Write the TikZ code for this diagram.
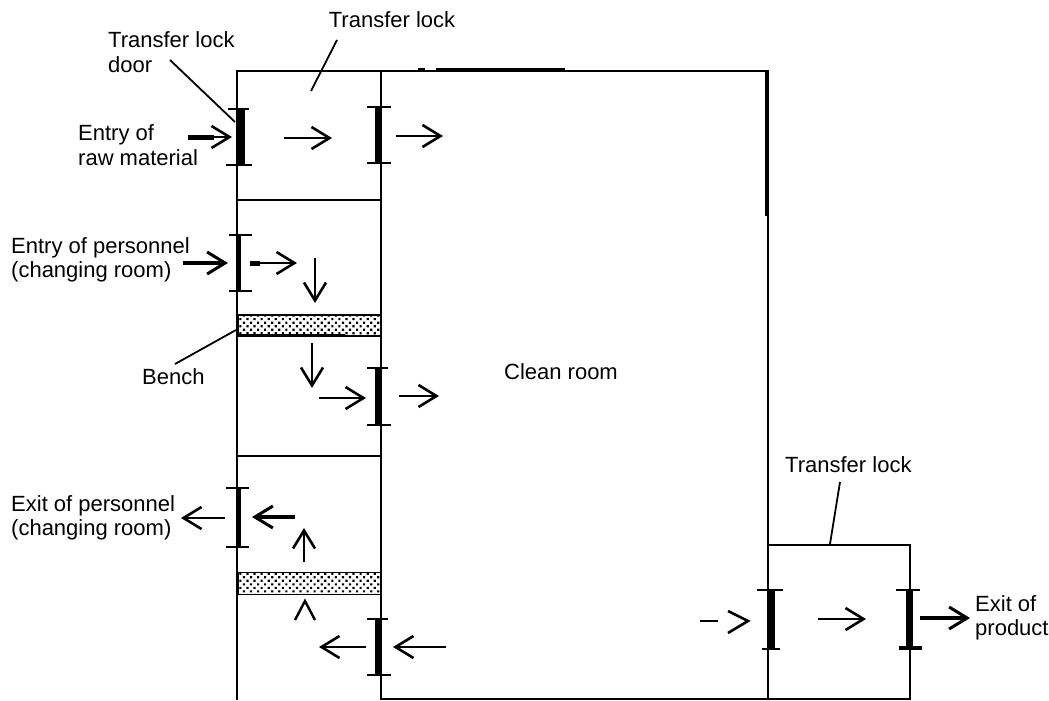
\documentclass[tikz,border=0pt]{standalone}
\usepackage{fontspec}
\setmainfont{Liberation Sans}
\usetikzlibrary{arrows.meta,patterns.meta}
\tikzset{
  x=1pt,y=-1pt,
  wall/.style={line width=2.4pt,line cap=rect},
  heavy/.style={line width=3.6pt},
  leader/.style={line width=1.8pt},
  doorthick/.style={line width=7pt},
  doorthin/.style={line width=4pt},
  doorcap/.style={line width=2.2pt},
  flow/.style={line width=2.2pt,-{Straight Barb[length=18pt,width=22pt,line width=2.6pt]}},
  flowbold/.style={line width=4.5pt,-{Straight Barb[length=18pt,width=22pt,line width=3pt]}},
  stub/.style={line width=5pt},
  bench/.style={pattern={Dots[radius=1.5pt,distance=5pt,angle=45]},pattern color=black,draw=black,line width=1.8pt},
  lbl/.style={font=\fontsize{22}{24.5}\selectfont,inner sep=0pt,align=left,text=black},
}
\begin{document}
\begin{tikzpicture}
\useasboundingbox (0,0) rectangle (1049,701);
\fill[white] (0,0) rectangle (1049,701);
% benches
\node[bench,minimum width=143pt,minimum height=21pt,inner sep=0pt,anchor=north west] (bencha) at (237.5,314) {};
\node[bench,minimum width=143pt,minimum height=22pt,inner sep=0pt,anchor=north west] (benchb) at (237.5,571.5) {};
\coordinate (bea) at (237,335); \coordinate (beb) at (345,335);
\draw[line width=3pt] (bea) -- (beb);
% walls
\draw[wall] (237,699) -- (237,71) -- (768,71) -- (768,699);
\draw[wall] (381,71) -- (381,699);
\draw[wall] (237,200) -- (381,200);
\draw[wall] (237,456) -- (381,456);
\draw[wall] (381,699) -- (910,699) -- (910,545) -- (768,545);
\draw[heavy] (418,70) -- (425,70) (436,70) -- (565,70);
\draw[heavy] (767,71) -- (767,216);
% doors
\foreach \nm/\xx/\ya/\yb/\style/\la/\ra/\lb/\rb in {
  da/241/109/165/doorthick/228/249/226/252,
  db/378.5/107/163/doorthick/367/391/367/391,
  dc/239/235/291/doorthin/229/252/229/252,
  dd/378.5/368/425/doorthick/367/388/367/391,
  de/239/488/547/doorthin/226/249/226/249,
  df/378.5/619/675/doorthick/367/388/367/391,
  dg/771.5/590/649/doorthick/757/783/762/780,
  dh/909/590/648/doorthick/896/920/899/922}{
  \coordinate (\nm t) at (\xx,\ya);
  \coordinate (\nm b) at (\xx,\yb);
  \draw[\style] (\nm t) -- (\nm b);
  \draw[doorcap] (\la,\ya) -- (\ra,\ya);
  \draw[doorcap] (\lb,\yb) -- (\rb,\yb);
}
\coordinate (dha) at (899,648); \coordinate (dhb) at (922,648);
\draw[line width=4.5pt] (dha) -- (dhb);
% flow arrows
\foreach \nm/\xa/\ya/\xb/\yb in {
  fa/188/137/232/137, fb/284/138/332/138, fc/396/136/443/136,
  fe/250/263/297/263, ff/315/258/315/303, fg/312/343/312/388,
  fh/319/398/366/398, fi/399/396/439/396, fj/225/518/181/518,
  fl/304/562/304/528, fm/366/647/319/647, fn/446/647/393/647,
  fo/818/619/866/619}{
  \coordinate (\nm s) at (\xa,\ya);
  \coordinate (\nm e) at (\xb,\yb);
  \draw[flow] (\nm s) -- (\nm e);
}
\foreach \nm/\xa/\ya/\xb/\yb in {
  fd/183/263/228/263, fk/295/517/252/517, fp/920/618/970/618}{
  \coordinate (\nm s) at (\xa,\ya);
  \coordinate (\nm e) at (\xb,\yb);
  \draw[flowbold] (\nm s) -- (\nm e);
}
% thick stubs at arrow tails
\coordinate (sa) at (188,137); \coordinate (sb) at (214,137);
\draw[stub] (sa) -- (sb);
\coordinate (sc) at (250,263); \coordinate (sd) at (260,263);
\draw[stub] (sc) -- (sd);
% broken arrows
\coordinate (ca) at (295,620); \coordinate (cb) at (305,601); \coordinate (cc) at (315,620);
\draw[line width=2.4pt] (ca) -- (cb) -- (cc);
\coordinate (ga) at (700,621); \coordinate (gb) at (718,621);
\draw[line width=2.2pt] (ga) -- (gb);
\coordinate (gc) at (728,611); \coordinate (gd) at (748,621); \coordinate (ge) at (728,633);
\draw[line width=2.6pt] (gc) -- (gd) -- (ge);
% labels
\node[lbl,anchor=center] (ltop) at (392,20) {Transfer lock};
\node[lbl,anchor=west] (ldoor) at (108,52) {Transfer lock\\door};
\node[lbl,anchor=west] (lraw) at (78,145) {Entry of\\raw material};
\node[lbl,anchor=west] (lpin) at (11,260) {Entry of personnel\\(changing room)};
\node[lbl,anchor=west] (lbench) at (142,377) {Bench};
\node[lbl,anchor=center] (lclean) at (561,372) {Clean room};
\node[lbl,anchor=west] (lpout) at (11,518) {Exit of personnel\\(changing room)};
\node[lbl,anchor=west] (lright) at (785,465) {Transfer lock};
\node[lbl,anchor=west] (lprod) at (975,618) {Exit of\\product};
% leaders
\coordinate (qa) at (337,40); \coordinate (qb) at (311,91);
\coordinate (qc) at (170,60); \coordinate (qd) at (235,122);
\coordinate (qe) at (236,330); \coordinate (qf) at (175,364);
\coordinate (qg) at (840,482); \coordinate (qh) at (830,544);
\draw[leader] (qa) -- (qb);
\draw[leader] (qc) -- (qd);
\draw[leader] (qe) -- (qf);
\draw[leader] (qg) -- (qh);
\end{tikzpicture}
\end{document}
